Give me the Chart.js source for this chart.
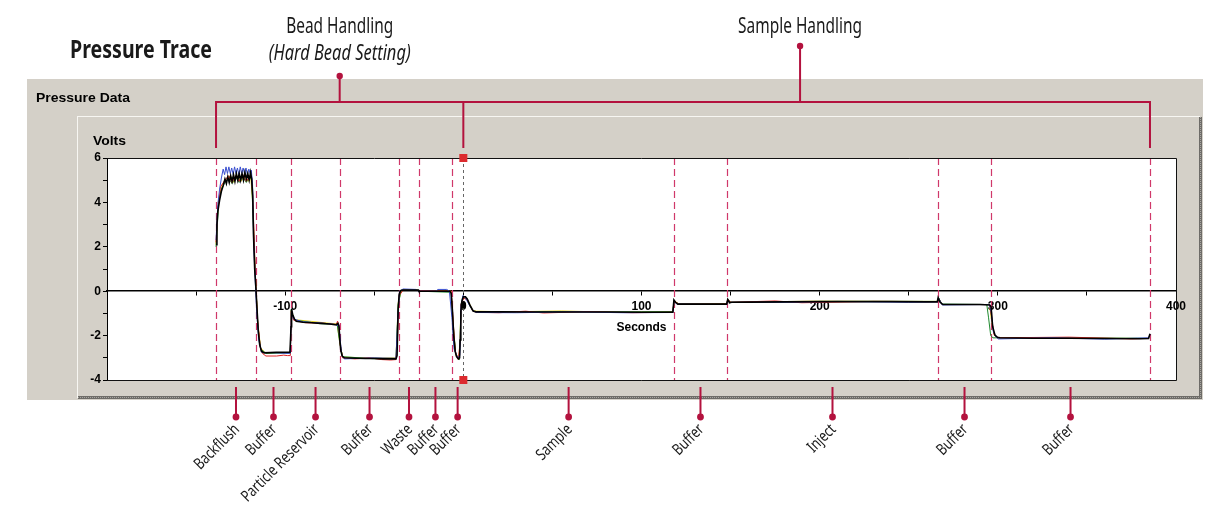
<!DOCTYPE html>
<html>
<head>
<meta charset="utf-8">
<script src="https://cdn.jsdelivr.net/npm/chart.js@4.4.1/dist/chart.umd.min.js"></script>
<style>
  html, body { margin: 0; background: #fff; }
</style>
</head>
<body>
<canvas id="trace" width="1225" height="511"></canvas>
<script>
// ---- data (seconds / volts) ----
const blackSec = [
  -138.8, -138.3, -137.8, -136.8, -135.8, -134.8,
  -133.8, -133, -132.2, -131.4, -130.6, -129.8, -129, -128.2, -127.4, -126.6,
  -125.8, -125, -124.2, -123.4, -122.6, -121.8, -121, -120.2, -119.4, -118.8,
  -118.2, -117.8, -117.1, -116.4, -115.8, -115.1, -114.3, -113.3,
  -111.8, -105, -100, -97.3,
  -96.7, -96.4, -95.8, -94.8, -93.8, -90, -85, -80, -75, -71.3, -70.4, -69.8,
  -69.3, -68.8, -68, -66.8, -60, -55, -50, -45, -40, -37.8, -37.2,
  -36.6, -36, -35.3, -33.8, -26, -25.2,
  -24.9, -20, -15, -7.5,
  -6.8, -6.1, -5.4, -4.6, -3.8, -2.8, -2.1, -1.8, -1.4,
  -0.8, 0, 1.2, 2.2, 3.7, 5.5, 7.2, 20, 40, 60, 80, 100, 117.6,
  118.2, 119.1, 120.4, 130, 140, 147.8,
  148.4, 149.4, 150.6, 160, 180, 200, 220, 240, 260, 266.0,
  266.5, 267.6, 269.2, 280, 290, 295.4,
  296.2, 297.1, 298.4, 299.8, 301.2, 320, 340, 360, 380, 384.6, 385.4
];
const blackVolts = [
  2.1, 3.0, 3.6, 4.1, 4.5, 4.75,
  5.05, 4.85, 5.15, 4.9, 5.2, 4.95, 5.25, 4.95, 5.3, 5.0,
  5.3, 5.0, 5.3, 5.0, 5.35, 5.05, 5.3, 5.0, 5.35, 5.05,
  4.3, 2.6, 1.0, 0.1, -0.8, -1.8, -2.4, -2.7,
  -2.78, -2.75, -2.75, -2.75,
  -1.6, -0.8, -1.05, -1.25, -1.35, -1.4, -1.42, -1.45, -1.48, -1.52, -1.45, -1.55,
  -2.2, -2.65, -2.92, -3.0, -3.02, -3.03, -3.03, -3.05, -3.05, -3.05, -2.9,
  -0.8, -0.15, 0.02, 0.05, 0.05, 0.05,
  0.0, 0.0, 0.0, 0.0,
  -0.1, -0.9, -2.0, -2.7, -2.95, -3.05, -3.0, -2.2, -0.9,
  -0.45, -0.25, -0.25, -0.35, -0.63, -0.89, -0.93, -0.93, -0.94, -0.94, -0.94, -0.95, -0.95,
  -0.4, -0.5, -0.58, -0.58, -0.58, -0.58,
  -0.37, -0.52, -0.5, -0.49, -0.48, -0.47, -0.47, -0.47, -0.48, -0.48,
  -0.29, -0.5, -0.6, -0.6, -0.6, -0.62,
  -0.7, -1.6, -1.98, -2.08, -2.1, -2.12, -2.12, -2.13, -2.14, -2.13, -1.92
];

const blueSec = [-138.8, -137.8, -136.8, -135.8, -134.8, -134, -133.2, -132.4, -131.6, -130.8, -130, -129.2, -128.4, -127.6, -126.8, -126, -125.2, -124.4, -123.6, -122.8, -122, -121.2, -120.4, -119.6, -119, -118.3, -117.6, -116.8, -116, -114.8, -113.3, -100, -97.1, -96.5, -95.3, -90, -80, -71.3, -69.8, -68.3, -66.8, -50, -37.8, -36.8, -35.8, -33.8, -26.8, -25.3, -15.3, -14.3, -9.3, -7.8, -6.4, -5.2, -3.3, -2, -1.3, -0.3, 1.2, 3.2, 5.2, 7.2, 30, 60, 90, 117.6, 118.2, 119.8, 147.8, 148.4, 149.6, 180, 210, 250, 266.1, 266.7, 268.7, 295.2, 296.2, 297.4, 298.8, 300.3, 330, 360, 384.6, 385.4];
const blueVolts = [2.3, 3.9, 4.6, 5.1, 5.5, 5.25, 5.6, 5.3, 5.6, 5.3, 5.55, 5.25, 5.6, 5.3, 5.55, 5.25, 5.6, 5.3, 5.55, 5.3, 5.55, 5.25, 5.5, 5.3, 5.45, 4.8, 2.0, 0.5, -0.9, -2.2, -2.75, -2.8, -2.8, -0.9, -1.25, -1.38, -1.43, -1.5, -1.6, -2.85, -3.05, -3.0, -3.02, -1.2, 0.0, 0.1, 0.08, 0.0, 0.0, 0.08, 0.08, 0.0, -1.2, -2.6, -3.0, -2.9, -0.7, -0.2, -0.3, -0.6, -0.85, -0.96, -0.97, -0.93, -0.97, -0.96, -0.45, -0.58, -0.6, -0.4, -0.5, -0.5, -0.46, -0.5, -0.48, -0.3, -0.62, -0.6, -0.9, -1.8, -2.05, -2.15, -2.1, -2.16, -2.1, -1.95];

const redSec = [-138.8, -137.8, -136.3, -133.8, -131.8, -129.8, -127.8, -125.8, -123.8, -121.8, -119.8, -118.8, -118, -116.8, -115.6, -114, -112.8, -110.8, -104.8, -100.8, -98.8, -97.1, -96.6, -95.3, -88.8, -78.8, -71.3, -70.6, -70, -69.1, -67.8, -60.8, -52.8, -45.8, -40.8, -37.8, -36.8, -36.1, -33.8, -25.3, -6.8, -6, -4.6, -2.8, -1.8, -1.2, 0.2, 2.2, 5.2, 7.2, 20, 35, 45, 70, 95, 117.6, 118.3, 120.8, 147.8, 148.4, 150.1, 175, 190, 230, 266.1, 266.7, 268.7, 295.4, 296.4, 297.8, 299.8, 340, 375, 384.8];
const redVolts = [2.2, 3.7, 4.7, 5.0, 5.2, 4.9, 5.2, 4.95, 5.25, 4.95, 5.2, 5.1, 3.8, 0.9, -1.2, -2.5, -2.8, -2.92, -2.92, -2.88, -2.9, -2.9, -0.9, -1.3, -1.42, -1.44, -1.5, -1.35, -1.5, -2.4, -3.0, -3.05, -3.0, -3.08, -3.1, -3.08, -1.9, -0.2, 0.04, 0.03, 0.0, -1.0, -2.7, -3.08, -2.3, -0.6, -0.3, -0.4, -0.88, -0.95, -0.97, -0.9, -0.98, -0.92, -0.97, -0.95, -0.42, -0.58, -0.58, -0.36, -0.5, -0.44, -0.52, -0.46, -0.47, -0.32, -0.6, -0.6, -1.1, -1.95, -2.1, -2.07, -2.15, -2.12];

const greenSec = [-138.8, -137.3, -135.8, -133.8, -131.8, -129.8, -127.8, -125.8, -123.8, -121.8, -119.8, -118.8, -118.1, -116.8, -115.3, -113.8, -110.8, -97.1, -96.6, -94.8, -80.8, -70.8, -69.4, -67.8, -50.8, -37.8, -36.6, -34.8, -25.8, -24.8, -6.8, -5.8, -4.3, -2.3, -1.6, -0.5, 1.7, 4.2, 6.2, 50, 100, 117.6, 118.3, 120.8, 147.8, 148.5, 150.1, 200, 266.1, 266.7, 268.7, 293.8, 294.8, 296, 297.3, 330, 384.8];
const greenVolts = [2.0, 4.0, 4.6, 4.9, 5.1, 4.85, 5.15, 4.9, 5.15, 4.9, 5.2, 5.0, 3.5, 0.8, -1.6, -2.6, -2.8, -2.78, -0.85, -1.3, -1.46, -1.5, -2.3, -2.95, -3.04, -3.06, -0.6, 0.05, 0.05, 0.0, -0.05, -1.4, -2.8, -3.1, -1.5, -0.3, -0.3, -0.75, -0.92, -0.92, -0.93, -0.92, -0.45, -0.57, -0.57, -0.38, -0.5, -0.46, -0.46, -0.3, -0.58, -0.6, -1.2, -2.0, -2.1, -2.11, -2.12];

const yellowSec = [-138.8, -137.6, -135.3, -132.8, -130.8, -128.8, -126.8, -124.8, -122.8, -120.8, -119.3, -118.2, -117, -115.4, -113.8, -110.8, -97.1, -96.6, -94.8, -75.8, -70.8, -69.4, -67.8, -55.8, -37.8, -36.5, -34.8, -25.8, -24.8, -6.8, -5.8, -4.2, -2.4, -1.5, -0.4, 2.2, 5.2, 7.2, 25, 55, 85, 117.6, 118.3, 120.8, 147.8, 148.5, 150.6, 195, 266.1, 266.7, 268.7, 295.3, 296.6, 298.1, 299.8, 350, 384.8];
const yellowVolts = [2.1, 4.0, 4.8, 5.0, 5.2, 4.9, 5.2, 4.95, 5.2, 4.95, 5.15, 4.0, 1.1, -1.4, -2.55, -2.8, -2.8, -0.85, -1.28, -1.44, -1.47, -2.3, -2.97, -3.0, -3.0, -0.5, 0.05, 0.05, 0.0, 0.0, -1.5, -2.9, -3.05, -1.2, -0.28, -0.35, -0.86, -0.9, -0.93, -0.89, -0.95, -0.92, -0.43, -0.56, -0.56, -0.4, -0.5, -0.45, -0.46, -0.31, -0.6, -0.6, -1.4, -2.0, -2.1, -2.12, -2.13];

// step boundaries (seconds) and the labelled steps between them
const stepEdges = [-138.8, -116.4, -96.7, -69.2, -36.1, -24.9, -6.4, 0, 118.2, 148.0, 266.4, 296.2, 385.4];
const stepNames = ['Backflush', 'Buffer', 'Particle Reservoir', 'Buffer', 'Waste', 'Buffer', 'Buffer',
                   'Sample', 'Buffer', 'Inject', 'Buffer', 'Buffer'];
const groupEdges = [-138.8, 0, 385.4];
const groupNames = ['Bead Handling', 'Sample Handling'];
const groupAt = [-69.4, 189];
const cursorSec = 0;
const cursorVolts = -0.62;

const yTicks = [-4, -2, 0, 2, 4, 6];
const xTicks = [-100, 0, 100, 200, 300, 400];

const GRAY = '#d4d0c8';
const CRIMSON = '#b3123e';
const DASH = '#d0386a';
const tickFont = { family: '"Liberation Sans", Arial, sans-serif', size: 12, weight: 'bold' };

const pts = (t, v) => t.map((s, i) => ({ x: s, y: v[i] }));

function fitText(ctx, text, x, y, width, font, align) {
  ctx.save();
  ctx.font = font;
  const k = width / ctx.measureText(text).width;
  ctx.translate(x, y);
  ctx.scale(k, 1);
  ctx.textAlign = align;
  ctx.textBaseline = 'alphabetic';
  ctx.fillText(text, 0, 0);
  ctx.restore();
}

function dot(ctx, x, y, r) {
  ctx.beginPath();
  ctx.arc(x, y, r, 0, Math.PI * 2);
  ctx.fill();
}

const panelPlugin = {
  id: 'panel',
  beforeDraw(chart) {
    const { ctx, chartArea: a } = chart;
    ctx.save();
    ctx.fillStyle = '#fff';
    ctx.fillRect(0, 0, chart.width, chart.height);
    // outer window
    ctx.fillStyle = GRAY;
    ctx.fillRect(27, 79, 1176, 321);
    // inner panel with 3d edges
    ctx.fillStyle = '#f7f6f2';
    ctx.fillRect(77, 116, 1123, 1);
    ctx.fillRect(77, 116, 1, 282);
    ctx.fillStyle = '#6e6c68';
    ctx.fillRect(1199, 117, 3, 282);
    ctx.fillRect(78, 396, 1124, 3);
    ctx.fillStyle = '#a9a7a2';
    for (let x = 78; x < 1202; x += 2) ctx.fillRect(x, 397, 1, 1);
    for (let y = 117; y < 399; y += 2) ctx.fillRect(1200, y, 1, 1);
    // plot background
    ctx.fillStyle = '#fff';
    ctx.fillRect(a.left, a.top, a.right - a.left, a.bottom - a.top);
    ctx.restore();
  },
  beforeDatasetsDraw(chart) {
    const { ctx, chartArea: a, scales: { x } } = chart;
    ctx.save();
    ctx.strokeStyle = DASH;
    ctx.lineWidth = 1.2;
    ctx.setLineDash([7, 4]);
    stepEdges.forEach(s => {
      if (s === cursorSec) return;
      const px = Math.round(x.getPixelForValue(s)) + 0.5;
      ctx.beginPath();
      ctx.moveTo(px, a.top);
      ctx.lineTo(px, a.bottom);
      ctx.stroke();
    });
    // cursor
    const cx = Math.round(x.getPixelForValue(cursorSec)) + 0.5;
    ctx.strokeStyle = '#666';
    ctx.lineWidth = 1;
    ctx.setLineDash([3, 3]);
    ctx.beginPath();
    ctx.moveTo(cx, a.top);
    ctx.lineTo(cx, a.bottom);
    ctx.stroke();
    ctx.restore();
  },
  afterDatasetsDraw(chart) {
    const { ctx, chartArea: a, scales: { x, y } } = chart;
    ctx.save();
    // plot frame
    ctx.strokeStyle = '#111';
    ctx.lineWidth = 1;
    ctx.beginPath();
    ctx.moveTo(a.left, a.top + 0.5);
    ctx.lineTo(a.right + 0.5, a.top + 0.5);
    ctx.lineTo(a.right + 0.5, a.bottom + 0.5);
    ctx.lineTo(a.left, a.bottom + 0.5);
    ctx.stroke();
    // cursor marker + handles
    const cx = x.getPixelForValue(cursorSec);
    ctx.fillStyle = '#000';
    ctx.beginPath();
    ctx.ellipse(cx, y.getPixelForValue(cursorVolts), 2.5, 3.5, 0, 0, Math.PI * 2);
    ctx.fill();
    ctx.fillStyle = '#dc2a2e';
    ctx.fillRect(cx - 4, a.top - 4, 8, 8);
    ctx.fillRect(cx - 4, a.bottom - 4, 8, 8);
    ctx.restore();
  },
  afterDraw(chart) {
    const { ctx, scales: { x } } = chart;
    const px = s => x.getPixelForValue(s);
    ctx.save();
    ctx.fillStyle = '#000';
    fitText(ctx, 'Pressure Data', 36, 102, 94, 'bold 13px "Liberation Sans", Arial, sans-serif', 'left');
    fitText(ctx, 'Volts', 93, 145, 33, 'bold 12px "Liberation Sans", Arial, sans-serif', 'left');

    // headings
    ctx.fillStyle = '#1a1a1a';
    fitText(ctx, 'Pressure Trace', 70, 58, 142, 'bold 25px "Noto Sans", sans-serif', 'left');
    const bx = px(groupAt[0]), sx = px(groupAt[1]);
    fitText(ctx, groupNames[0], bx, 33, 107, '21px "Noto Sans", sans-serif', 'center');
    fitText(ctx, '(Hard Bead Setting)', bx, 60, 142, 'italic 21px "Noto Sans", sans-serif', 'center');
    fitText(ctx, groupNames[1], sx, 33, 124, '21px "Noto Sans", sans-serif', 'center');

    // top bracket
    ctx.strokeStyle = CRIMSON;
    ctx.fillStyle = CRIMSON;
    ctx.lineWidth = 2;
    const by = 102;
    const gx = groupEdges.map(px);
    ctx.beginPath();
    ctx.moveTo(gx[0], by);
    ctx.lineTo(gx[gx.length - 1], by);
    gx.forEach(g => { ctx.moveTo(g, by - 1); ctx.lineTo(g, 148); });
    ctx.moveTo(bx, by); ctx.lineTo(bx, 76);
    ctx.moveTo(sx, by); ctx.lineTo(sx, 46);
    ctx.stroke();
    dot(ctx, bx, 76, 3.2);
    dot(ctx, sx, 46, 3.2);

    // step stems and labels
    const mids = stepNames.map((n, i) => px((stepEdges[i] + stepEdges[i + 1]) / 2));
    ctx.beginPath();
    mids.forEach(m => { ctx.moveTo(m, 387); ctx.lineTo(m, 417); });
    ctx.stroke();
    mids.forEach(m => dot(ctx, m, 417, 3.4));
    ctx.fillStyle = '#1a1a1a';
    ctx.font = '16px "Noto Sans", sans-serif';
    ctx.textAlign = 'right';
    ctx.textBaseline = 'middle';
    stepNames.forEach((n, i) => {
      ctx.save();
      ctx.translate(mids[i] + 1, 427);
      ctx.rotate(-Math.PI / 4);
      ctx.scale(0.78, 1);
      ctx.fillText(n, 0, 0);
      ctx.restore();
    });
    ctx.restore();
  }
};

const line = (label, t, v, color, width) => ({
  label, data: pts(t, v), borderColor: color, borderWidth: width,
  pointRadius: 0, tension: 0, fill: false
});

new Chart(document.getElementById('trace'), {
  type: 'line',
  data: {
    datasets: [
      line('Run 1', blackSec, blackVolts, '#000', 1.6),
      line('Run 2', blueSec, blueVolts, '#3a4fd0', 1),
      line('Run 3', redSec, redVolts, '#e02424', 1),
      line('Run 4', greenSec, greenVolts, '#1e8a2e', 1),
      line('Run 5', yellowSec, yellowVolts, '#e6d21a', 1)
    ]
  },
  options: {
    responsive: false,
    animation: false,
    layout: { padding: { left: 77, right: 49, top: 158, bottom: 131 } },
    plugins: { legend: { display: false }, tooltip: { enabled: false } },
    scales: {
      x: {
        type: 'linear', min: -200, max: 400,
        position: { y: 0 },
        border: { color: '#000', width: 1.5 },
        grid: { drawOnChartArea: false, color: '#000', tickLength: 4 },
        ticks: {
          stepSize: 50, autoSkip: false, maxRotation: 0, padding: 4,
          color: '#000', font: tickFont,
          callback: v => xTicks.includes(v) ? String(v) : ''
        },
        title: { display: true, text: 'Seconds', color: '#000', font: tickFont, padding: { top: 3, bottom: 0 } }
      },
      y: {
        min: -4, max: 6,
        afterFit: s => { s.width = 30; },
        border: { color: '#000', width: 1 },
        grid: { drawOnChartArea: false, color: '#000', tickLength: 4 },
        ticks: {
          stepSize: 1, padding: 2, color: '#000', font: tickFont,
          callback: v => yTicks.includes(v) ? String(v) : ''
        }
      }
    }
  },
  plugins: [panelPlugin]
});
</script>
</body>
</html>
